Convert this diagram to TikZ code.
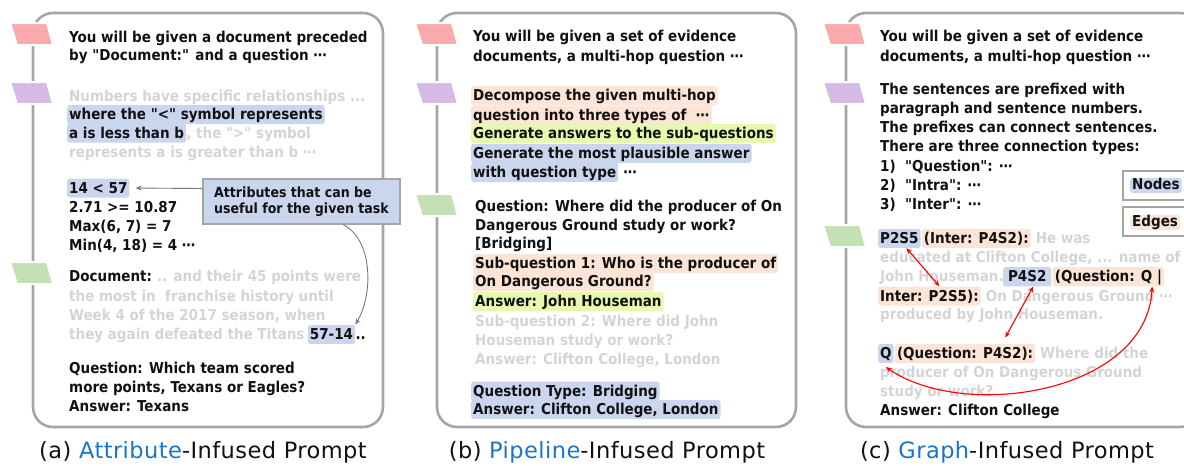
\documentclass[tikz,border=0pt]{standalone}
\usepackage{fontspec}
\setmainfont{DejaVu Sans}
\newfontfamily\bodyfont{DejaVu Sans Condensed}
\newcommand{\bodysel}{\bodyfont\bfseries}
\newfontfamily\capfont{DejaVu Sans}[LetterSpace=2]
\usepackage{xcolor}
\usepackage{tikz}
\usetikzlibrary{calc,arrows.meta}

\newcommand{\qmark}{\textquotedbl}

\definecolor{flagpink}{RGB}{250,170,172}
\definecolor{flagpurple}{RGB}{213,186,230}
\definecolor{flaggreen}{RGB}{197,224,180}
\definecolor{framegray}{RGB}{165,165,165}
\definecolor{hlblue}{RGB}{202,214,238}
\definecolor{hlpeach}{RGB}{252,228,214}
\definecolor{hlgreen}{RGB}{231,249,176}
\definecolor{fadetxt}{RGB}{212,212,212}
\definecolor{capblue}{RGB}{26,117,199}
\definecolor{darktxt}{RGB}{17,17,17}
\definecolor{arrgray}{RGB}{120,120,120}

\tikzset{
	txt/.style={anchor=base west, inner xsep=0pt, inner ysep=0pt, text height=14.5pt, text depth=4.6pt, text=darktxt},
	faded/.style={txt, text=fadetxt},
	hl/.style={txt, inner xsep=2pt, rounded corners=2.5pt, xshift=-2pt},
	hlb/.style={hl, fill=hlblue},
	hlp/.style={hl, fill=hlpeach},
	hlg/.style={hl, fill=hlgreen},
	panelframe/.style={draw=framegray, line width=2.6pt, rounded corners=20pt},
	captxt/.style={anchor=base, font=\capfont\fontsize{22.5}{25}\selectfont, text=darktxt},
	callout/.style={draw=framegray, line width=1.2pt, fill=hlblue, align=left, minimum width=197pt, minimum height=45pt, font=\bodysel\fontsize{14}{16.5}\selectfont, text=darktxt},
	legendbox/.style={draw=framegray, line width=1.5pt, fill=white, minimum width=75pt, minimum height=29pt, anchor=west},
	legendtxt/.style={hl, text height=11.5pt, text depth=3.5pt},
	redarr/.style={red, line width=1.1pt, {Stealth[length=6pt,width=5pt]}-{Stealth[length=6pt,width=5pt]}},
	grayarr/.style={arrgray, line width=0.9pt, -{Stealth[length=6pt,width=5pt]}}
}

\begin{document}
\begin{tikzpicture}[x=1pt, y=-1pt, font=\bodysel\fontsize{15}{17}\selectfont]
	
	\useasboundingbox (0,0) rectangle (1184,466);
	
	% 1. 三个面板的圆角外框
	\draw[panelframe] (33,13) rectangle (383,427);
	\draw[panelframe] (437,13) rectangle (796,427);
	\draw[panelframe] (846,13) rectangle (1200,427);
	
	% 2. 左侧的彩色标签 (平行四边形)
	\foreach \cx/\yt/\col in {32/23/flagpink, 32/82/flagpurple, 32/262/flaggreen,
		437/23/flagpink, 437/82/flagpurple, 437/194/flaggreen,
		845/23/flagpink, 845/82/flagpurple, 845/225/flaggreen}
	\filldraw[fill=\col, draw=white, line width=2pt] (\cx-22,\yt) -- (\cx+15,\yt) -- (\cx+21,\yt+22) -- (\cx-15,\yt+22) -- cycle;
	
	% 3. 面板 (a)
	\node[txt] (a1) at (69,42) {You will be given a document preceded};
	\node[txt] (a2) at (69,60.5) {by \qmark Document:\qmark{} and a question ⋯};
	\node[faded] (a3) at (69,101) {Numbers have specific relationships ...};
	\node[hlb] (a4) at (69,119.5) {where the \qmark<\qmark{} symbol represents};
	\node[hlb] (a5a) at (69,138) {a is less than b};
	\node[faded] (a5b) at (a5a.base east) {, the \qmark>\qmark{} symbol};
	\node[faded] (a6) at (69,157.7) {represents a is greater than b ⋯};
	\node[hlb] (a7) at (69,193) {14 < 57};
	\node[txt] (a8) at (69,212.7) {2.71 >= 10.87};
	\node[txt] (a9) at (69,231.7) {Max(6, 7) = 7};
	\node[txt] (a10) at (69,250.7) {Min(4, 18) = 4 ⋯};
	\node[txt] (a11a) at (69,281.7) {Document:};
	\node[faded] (a11b) at (a11a.base east) {~.. and their 45 points were};
	\node[faded] (a12) at (69,301.7) {the most in~ franchise history until};
	\node[faded] (a13) at (69,320.7) {Week 4 of the 2017 season, when};
	\node[faded] (a14a) at (69,339.3) {they again defeated the Titans};
	\node[hlb] (a14b) at ($(a14a.base east)+(5,0)$) {57-14};
	\node[txt] (a14c) at (a14b.base east) {..};
	\node[txt] (a15) at (69,373.3) {Question: Which team scored};
	\node[txt] (a16) at (69,392.3) {more points, Texans or Eagles?};
	\node[txt] (a17) at (69,411) {Answer: Texans};
	
	% 说明框及其箭头
	\node[callout] (attr) at (301.5,201.5) {Attributes that can be\\useful for the given task};
	\draw[grayarr] ([yshift=13pt]attr.west) -- ([xshift=6pt]a7.east);
	\draw[grayarr] ($(attr.south west)!0.71!(attr.south east)$) .. controls +(30,15) and +(18,-30) .. (a14b.north east);
	
	% 4. 面板 (b)
	\node[txt] (b1) at (473,41.7) {You will be given a set of evidence};
	\node[txt] (b2) at (473,61.7) {documents, a multi-hop question ⋯};
	\node[hlp] (b3) at (473,100.7) {Decompose the given multi-hop};
	\node[hlp] (b4) at (473,120) {question into three types of~ ⋯};
	\node[hlg] (b5) at (473,138.3) {Generate answers to the sub-questions};
	\node[hlb] (b6) at (473,158.3) {Generate the most plausible answer};
	\node[hlb] (b7a) at (473,177.3) {with question type};
	\node[txt] (b7b) at (b7a.base east) {~⋯};
	\node[txt] (b8) at (475,211.7) {Question: Where did the producer of On};
	\node[txt] (b9) at (475,230) {Dangerous Ground study or work?};
	\node[txt] (b10) at (475,248.3) {[Bridging]};
	\node[hlp] (b11) at (475,268.3) {Sub-question 1: Who is the producer of};
	\node[hlp] (b12) at (475,286.7) {On Dangerous Ground?};
	\node[hlg] (b13) at (475,306.7) {Answer: John Houseman};
	\node[faded] (b14) at (475,326) {Sub-question 2: Where did John};
	\node[faded] (b15) at (475,345) {Houseman study or work?};
	\node[faded] (b16) at (475,364) {Answer: Clifton College, London};
	\node[hlb] (b17) at (473,396) {Question Type: Bridging};
	\node[hlb] (b18) at (473,414.3) {Answer: Clifton College, London};
	
	% 5. 面板 (c)
	\node[txt] (c1) at (880,41.7) {You will be given a set of evidence};
	\node[txt] (c2) at (880,61.7) {documents, a multi-hop question ⋯};
	\node[txt] (c3) at (880,94) {The sentences are prefixed with};
	\node[txt] (c4) at (880,113.3) {paragraph and sentence numbers.};
	\node[txt] (c5) at (880,132.7) {The prefixes can connect sentences.};
	\node[txt] (c6) at (880,151.7) {There are three connection types:};
	\node[txt] (c7) at (880,171) {1)~~\qmark Question\qmark: ⋯};
	\node[txt] (c8) at (880,190) {2)~~\qmark Intra\qmark: ⋯};
	\node[txt] (c9) at (880,209) {3)~~\qmark Inter\qmark: ⋯};
	
	\node[legendbox] (nodesbox) at (1122,185.5) {};
	\node[legendtxt, fill=hlblue] (nodestxt) at (1132,189.5) {Nodes};
	\node[legendbox] (edgesbox) at (1122,221.5) {};
	\node[legendtxt, fill=hlpeach] (edgestxt) at (1132,226.7) {Edges};
	
	\node[hlb] (c10a) at (880,243.3) {P2S5};
	\node[hlp, xshift=3pt] (c10b) at (c10a.base east) {(Inter: P4S2):};
	\node[faded] (c10c) at (c10b.base east) {~He was};
	\node[faded] (c11) at (880,262.3) {educated at Clifton College, ... name of};
	\node[faded] (c12a) at (880,281.7) {John Houseman.};
	\node[hlb, inner xsep=5pt, xshift=1pt] (c12b) at (c12a.base east) {P4S2};
	\node[hlp, xshift=3pt] (c12c) at (c12b.base east) {(Question: Q |};
	\node[hlp] (c13a) at (880,301) {Inter: P2S5):};
	\node[faded] (c13b) at (c13a.base east) {~On Dangerous Ground ⋯};
	\node[faded] (c14) at (880,319.3) {produced by John Houseman.};
	\node[hlb] (c15a) at (880,358.3) {Q};
	\node[hlp, xshift=3pt] (c15b) at (c15a.base east) {(Question: P4S2):};
	\node[faded] (c15c) at (c15b.base east) {~Where did the};
	\node[faded] (c16) at (880,377.3) {producer of On Dangerous Ground};
	\node[faded] (c17) at (880,396.7) {study or work?};
	\node[txt] (c18) at (880,415.7) {Answer: Clifton College};
	
	% 红色的连接箭头
	\draw[redarr] ([xshift=7pt]c10a.south) -- ([xshift=10pt]c13a.north);
	\draw[redarr] ([xshift=6pt]c12b.south) -- ([xshift=-30pt,yshift=6pt]c15b.north east);
	\draw[redarr] ([xshift=-12pt]c12c.south east) .. controls +(-6,107) and +(78,54) .. ([yshift=-4pt]c15a.south);
	
	% 6. 标题
	\node[captxt] (capa) at (203,458) {(a) \textcolor{capblue}{Attribute}-Infused Prompt};
	\node[captxt] (capb) at (607,458) {(b) \textcolor{capblue}{Pipeline}-Infused Prompt};
	\node[captxt] (capc) at (1007,458) {(c) \textcolor{capblue}{Graph}-Infused Prompt};
	
\end{tikzpicture}
\end{document}
